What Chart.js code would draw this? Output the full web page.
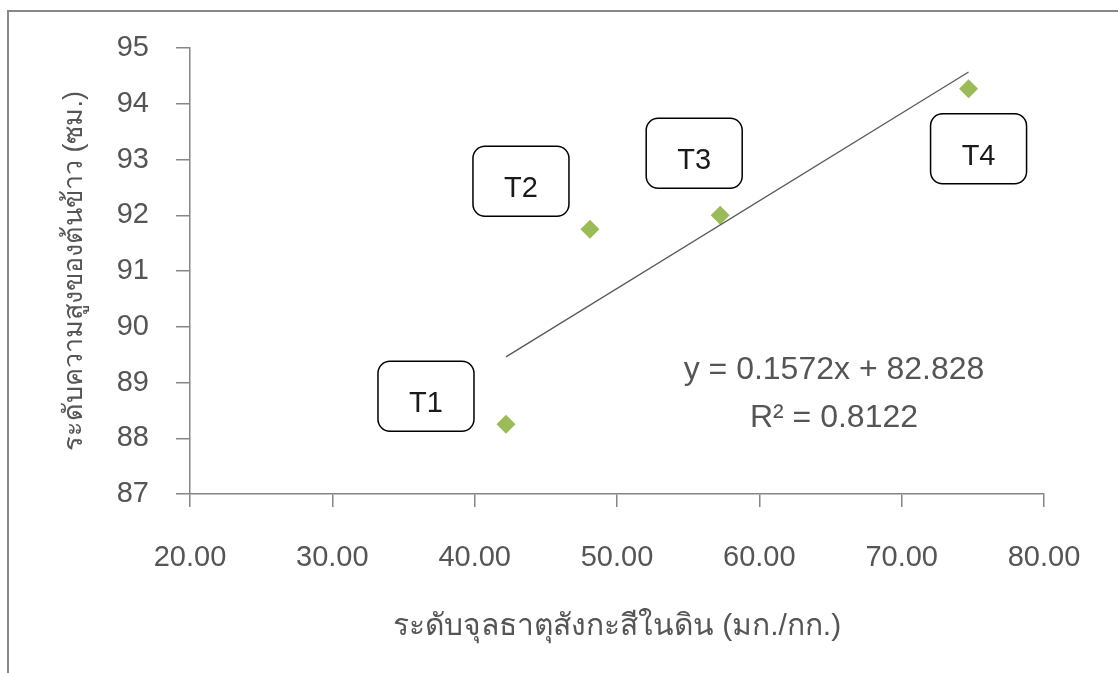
<!DOCTYPE html>
<html>
<head>
<meta charset="utf-8">
<script src="https://cdn.jsdelivr.net/npm/chart.js@4"></script>
<style>
  html, body { margin: 0; padding: 0; background: #fff; }
  #wrap { position: relative; width: 1118px; height: 673px; }
</style>
</head>
<body>
<div id="wrap"><canvas id="chart" width="1118" height="673"></canvas></div>
<script>
// --- data ---
const pointLabels = ['T1', 'T2', 'T3', 'T4'];
const zincLevels = [42.2, 48.1, 57.25, 74.7];      // มก./กก.
const riceHeights = [88.25, 91.75, 92.0, 94.27];    // ซม.
const trendX = [42.2, 74.7];
const trendY = [89.46, 94.57];
const xTickLabels = ['20.00', '30.00', '40.00', '50.00', '60.00', '70.00', '80.00'];
const yTickLabels = ['87', '88', '89', '90', '91', '92', '93', '94', '95'];
const equationLines = ['y = 0.1572x + 82.828', 'R² = 0.8122'];

const FONT = "'Liberation Sans', 'Noto Sans', sans-serif";
const AXIS_GRAY = '#868686';
const TEXT_GRAY = '#555555';

// where each T-box sits relative to its point (px)
const boxOffsets = [[-80, -28], [-69, -48], [-26, -62], [10, 60]];

const framePlugin = {
    id: 'frame',
    beforeDraw(chart) {
        const ctx = chart.ctx;
        ctx.save();
        ctx.strokeStyle = '#888888';
        ctx.lineWidth = 2;
        ctx.beginPath();
        ctx.moveTo(8, chart.height + 5);
        ctx.lineTo(8, 11);
        ctx.lineTo(chart.width + 5, 11);
        ctx.stroke();
        ctx.restore();
    }
};

const annotationPlugin = {
    id: 'annotations',
    afterDatasetsDraw(chart) {
        const ctx = chart.ctx;
        const xs = chart.scales.x, ys = chart.scales.y;
        ctx.save();
        // rounded label boxes
        pointLabels.forEach((lab, i) => {
            const cx = xs.getPixelForValue(zincLevels[i]) + boxOffsets[i][0];
            const cy = ys.getPixelForValue(riceHeights[i]) + boxOffsets[i][1];
            const w = 96, h = 70;
            ctx.beginPath();
            ctx.roundRect(cx - w / 2, cy - h / 2, w, h, 12);
            ctx.fillStyle = '#ffffff';
            ctx.fill();
            ctx.lineWidth = 1.5;
            ctx.strokeStyle = '#000000';
            ctx.stroke();
            ctx.fillStyle = '#1a1a1a';
            ctx.font = '29px ' + FONT;
            ctx.textAlign = 'center';
            ctx.textBaseline = 'middle';
            ctx.fillText(lab, cx, cy + 8);
        });
        // trend equation
        ctx.fillStyle = TEXT_GRAY;
        ctx.font = '32px ' + FONT;
        ctx.textAlign = 'center';
        ctx.textBaseline = 'middle';
        ctx.fillText(equationLines[0], 834, 370);
        ctx.fillText(equationLines[1], 834, 418);
        ctx.restore();
    }
};

new Chart(document.getElementById('chart'), {
    type: 'scatter',
    data: {
        datasets: [
            {
                label: 'trend',
                type: 'line',
                data: trendX.map((x, i) => ({ x, y: trendY[i] })),
                borderColor: '#595959',
                borderWidth: 1.3,
                pointRadius: 0,
                fill: false
            },
            {
                label: 'points',
                data: zincLevels.map((x, i) => ({ x, y: riceHeights[i] })),
                pointStyle: 'rectRot',
                pointRadius: 9.5,
                pointBackgroundColor: '#9BBB59',
                pointBorderColor: '#9BBB59',
                pointBorderWidth: 0
            }
        ]
    },
    options: {
        responsive: false,
        animation: false,
        layout: { padding: { left: 0, top: 48, right: 74, bottom: 28 } },
        plugins: { legend: { display: false }, tooltip: { enabled: false } },
        scales: {
            x: {
                type: 'linear',
                min: 20, max: 80,
                afterFit: s => { s.height = 151; },
                border: { color: AXIS_GRAY, width: 1.5 },
                grid: { drawOnChartArea: false, drawTicks: true, tickLength: 13, color: AXIS_GRAY, lineWidth: 1.5 },
                ticks: {
                    stepSize: 10,
                    padding: 34,
                    color: TEXT_GRAY,
                    font: { family: FONT, size: 29, lineHeight: 1.2 },
                    callback: (v) => xTickLabels[Math.round((v - 20) / 10)]
                },
                title: {
                    display: true,
                    text: 'ระดับจุลธาตุสังกะสีในดิน (มก./กก.)',
                    color: TEXT_GRAY,
                    font: { family: FONT, size: 30, lineHeight: 1.2 },
                    padding: { top: 0, bottom: 0 }
                }
            },
            y: {
                min: 87, max: 95,
                afterFit: s => { s.width = 190; },
                border: { color: AXIS_GRAY, width: 1.5 },
                grid: { drawOnChartArea: false, drawTicks: true, tickLength: 14, color: AXIS_GRAY, lineWidth: 1.5 },
                ticks: {
                    stepSize: 1,
                    padding: 27,
                    color: TEXT_GRAY,
                    font: { family: FONT, size: 29, lineHeight: 1.2 },
                    callback: (v) => yTickLabels[Math.round(v - 87)]
                },
                title: {
                    display: true,
                    text: 'ระดับความสูงของต้นข้าว (ซม.)',
                    color: TEXT_GRAY,
                    font: { family: FONT, size: 27, lineHeight: 1.2 },
                    padding: { top: 58, bottom: 0 }
                }
            }
        }
    },
    plugins: [framePlugin, annotationPlugin]
});
</script>
</body>
</html>
